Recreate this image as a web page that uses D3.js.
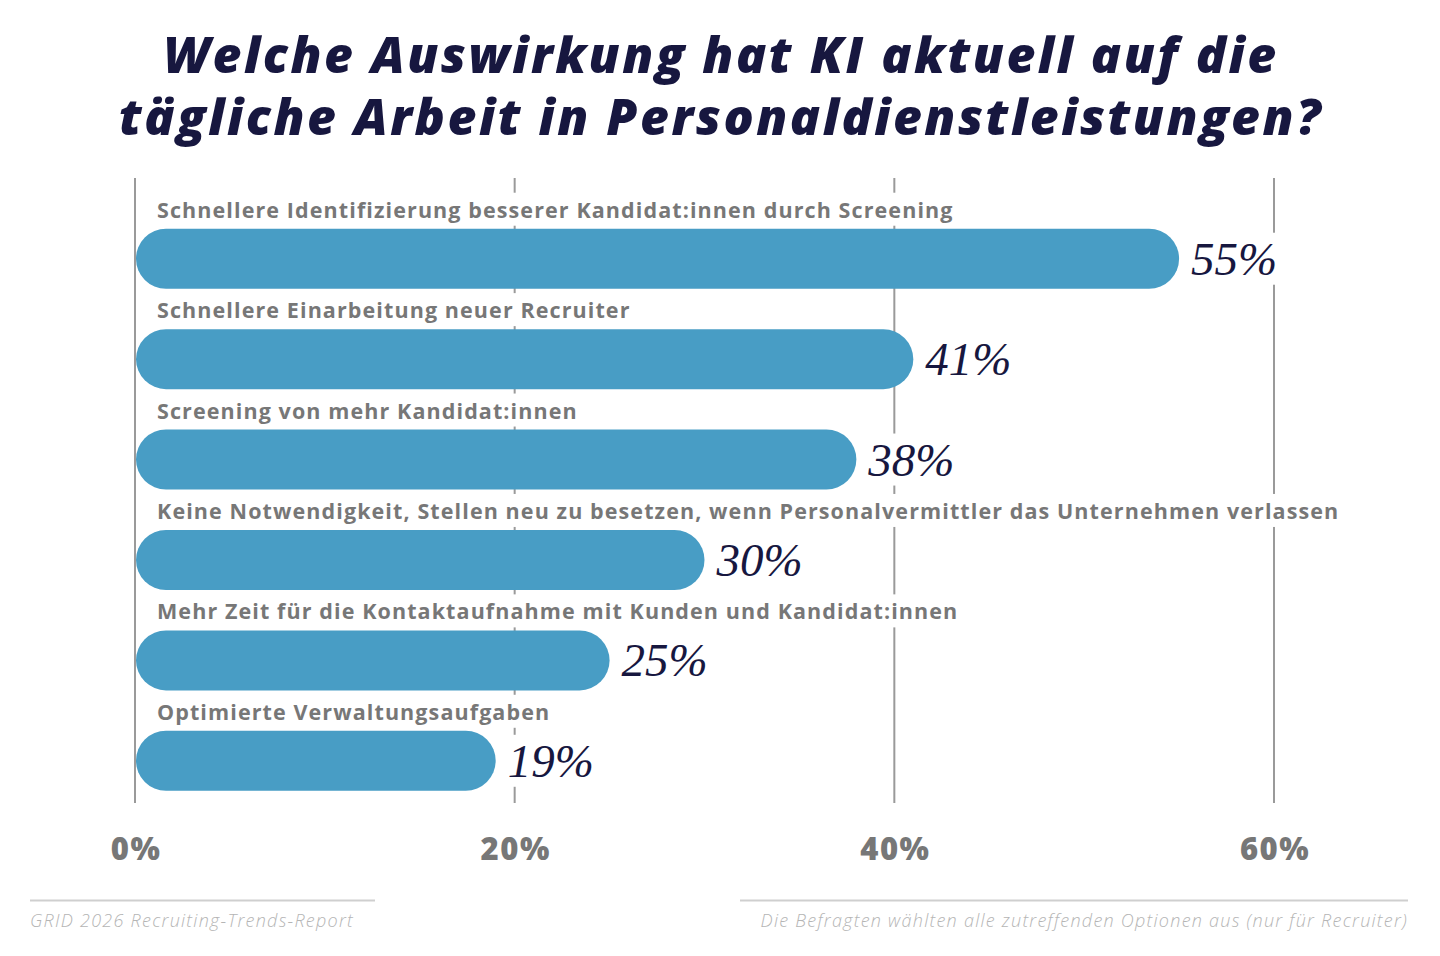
<!DOCTYPE html>
<html>
<head>
<meta charset="utf-8">
<script src="https://cdn.jsdelivr.net/npm/d3@7"></script>
<style>
  body { margin: 0; background: #fff; }
  svg { display: block; }
</style>
</head>
<body>
<svg id="chart"></svg>
<script>
// data
var categories = [
  "Schnellere Identifizierung besserer Kandidat:innen durch Screening",
  "Schnellere Einarbeitung neuer Recruiter",
  "Screening von mehr Kandidat:innen",
  "Keine Notwendigkeit, Stellen neu zu besetzen, wenn Personalvermittler das Unternehmen verlassen",
  "Mehr Zeit für die Kontaktaufnahme mit Kunden und Kandidat:innen",
  "Optimierte Verwaltungsaufgaben"
];
var values = [55, 41, 38, 30, 25, 19];
var tickValues = [0, 20, 40, 60];
var titleLines = ["Welche Auswirkung hat KI aktuell auf die", "tägliche Arbeit in Personaldienstleistungen?"];
var sourceText = "GRID 2026 Recruiting-Trends-Report";
var noteText = "Die Befragten wählten alle zutreffenden Optionen aus (nur für Recruiter)";

var width = 1440, height = 956;
var navy = "#17173f", blue = "#489dc5", gray = "#777777";

var svg = d3.select("svg#chart")
  .attr("width", width)
  .attr("height", height);

// scales
var x = d3.scaleLinear().domain([0, 60]).range([135, 1274]);
var y = d3.scaleBand()
  .domain(categories)
  .range([208.5, 811])
  .paddingInner(0)
  .paddingOuter(0);
var barH = 60;

// title
svg.append("g").selectAll("text")
  .data(titleLines)
  .enter().append("text")
  .attr("x", width / 2 + 1)
  .attr("y", function (d, i) { return 73 + i * 62; })
  .attr("text-anchor", "middle")
  .style("font-family", "'Open Sans', sans-serif")
  .style("font-weight", 800)
  .style("font-style", "italic")
  .style("font-size", "50px")
  .style("letter-spacing", "2.5px")
  .style("fill", navy)
  .text(function (d) { return d; });

// grid lines
svg.append("g").selectAll("line")
  .data(tickValues)
  .enter().append("line")
  .attr("x1", function (d) { return x(d); })
  .attr("x2", function (d) { return x(d); })
  .attr("y1", 178)
  .attr("y2", 803)
  .style("stroke", "#9a9a9a")
  .style("stroke-width", 2);

// axis tick labels
var axis = svg.append("g")
  .attr("transform", "translate(0,849)")
  .call(d3.axisBottom(x).tickValues(tickValues).tickSize(0).tickFormat(function (d) { return d + "%"; }));
axis.select(".domain").remove();
axis.selectAll("text")
  .attr("dy", "0.35em")
  .attr("y", 0)
  .attr("dx", "0.5px")
  .style("font-family", "'Open Sans', sans-serif")
  .style("font-weight", 800)
  .style("font-size", "31px")
  .style("letter-spacing", "1.5px")
  .style("fill", gray);

var rows = svg.append("g").selectAll("g")
  .data(categories)
  .enter().append("g")
  .attr("transform", function (d) { return "translate(0," + (y(d) + y.bandwidth() / 2) + ")"; });

// category labels with white background
rows.append("rect").attr("class", "lblbg");
rows.append("text")
  .attr("class", "lbl")
  .attr("x", 157)
  .attr("y", -41)
  .style("font-family", "'Open Sans', sans-serif")
  .style("font-weight", 700)
  .style("font-size", "21.5px")
  .style("letter-spacing", "1.1px")
  .style("fill", gray)
  .text(function (d) { return d; });
rows.each(function () {
  var g = d3.select(this);
  var bb = g.select("text.lbl").node().getBBox();
  g.select("rect.lblbg")
    .attr("x", bb.x - 4).attr("y", bb.y - 2)
    .attr("width", bb.width + 8).attr("height", bb.height + 4)
    .style("fill", "#fff");
});

// bars
rows.append("rect")
  .attr("x", x(0) + 1)
  .attr("y", -barH / 2)
  .attr("height", barH)
  .attr("rx", barH / 2)
  .attr("width", function (d, i) { return x(values[i]) - x(0) - 1; })
  .style("fill", blue);

// value labels
rows.append("rect").attr("class", "valbg");
rows.append("text")
  .attr("class", "val")
  .attr("x", function (d, i) { return x(values[i]) + 12; })
  .attr("y", 16)
  .style("font-family", "'Liberation Serif', serif")
  .style("font-style", "italic")
  .style("font-size", "47px")
  .style("fill", navy)
  .text(function (d, i) { return values[i] + "%"; });
rows.each(function () {
  var g = d3.select(this);
  var bb = g.select("text.val").node().getBBox();
  g.select("rect.valbg")
    .attr("x", bb.x - 2).attr("y", bb.y)
    .attr("width", bb.width + 6).attr("height", bb.height)
    .style("fill", "#fff");
});

// footer
svg.append("line")
  .attr("x1", 30).attr("x2", 375).attr("y1", 900.5).attr("y2", 900.5)
  .style("stroke", "#cfcfcf").style("stroke-width", 2);
svg.append("line")
  .attr("x1", 740).attr("x2", 1408).attr("y1", 900.5).attr("y2", 900.5)
  .style("stroke", "#cfcfcf").style("stroke-width", 2);
svg.append("text")
  .attr("x", 30).attr("y", 927)
  .style("font-family", "'Open Sans', sans-serif")
  .style("font-style", "italic")
  .style("font-weight", 300)
  .style("font-size", "18px")
  .style("letter-spacing", "1.25px")
  .style("fill", "#b5b5b5")
  .text(sourceText);
svg.append("text")
  .attr("x", 1408).attr("y", 927)
  .attr("text-anchor", "end")
  .style("font-family", "'Open Sans', sans-serif")
  .style("font-style", "italic")
  .style("font-weight", 300)
  .style("font-size", "18px")
  .style("letter-spacing", "1.25px")
  .style("fill", "#b5b5b5")
  .text(noteText);
</script>
</body>
</html>
